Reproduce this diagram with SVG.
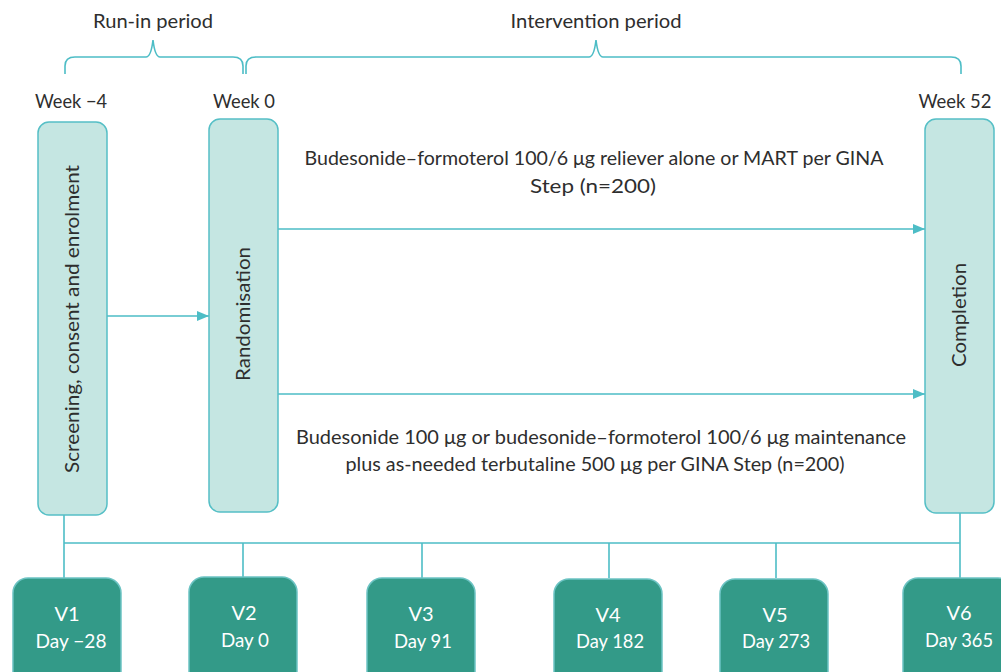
<svg xmlns="http://www.w3.org/2000/svg" width="1001" height="672" viewBox="0 0 1001 672">
<defs>
<style>
.t{font-family:"Source Sans Pro",Lato,"Liberation Sans",sans-serif;font-size:20px;fill:#2e2e2e}
.w{font-family:"Source Sans Pro",Lato,"Liberation Sans",sans-serif;font-size:20px;fill:#ffffff}
.pb{fill:#c5e6e2;stroke:#55bfc6;stroke-width:1.5}
.vb{fill:#339a88;stroke:#6cc3c3;stroke-width:1.5}
.ln{fill:none;stroke:#4dbdc6;stroke-width:1.6}
</style>
<marker id="ah" viewBox="0 0 12 10" refX="12" refY="5" markerWidth="12" markerHeight="10" markerUnits="userSpaceOnUse" orient="auto">
<path d="M0,0 L12,5 L0,10 Z" fill="#4dbdc6"/>
</marker>
</defs>
<rect width="1001" height="672" fill="#ffffff"/>
<g id="labels">
<text class="t" x="153" y="28" text-anchor="middle" textLength="120" lengthAdjust="spacingAndGlyphs">Run-in period</text>
<text class="t" x="596" y="28" text-anchor="middle" textLength="171" lengthAdjust="spacingAndGlyphs">Intervention period</text>
<text class="t" x="71" y="108" text-anchor="middle" textLength="72" lengthAdjust="spacingAndGlyphs">Week −4</text>
<text class="t" x="244" y="108" text-anchor="middle" textLength="62" lengthAdjust="spacingAndGlyphs">Week 0</text>
<text class="t" x="955" y="108" text-anchor="middle" textLength="73" lengthAdjust="spacingAndGlyphs">Week 52</text>
<text class="t" x="594" y="165" text-anchor="middle" textLength="579" lengthAdjust="spacingAndGlyphs">Budesonide–formoterol 100/6 μg reliever alone or MART per GINA</text>
<text class="t" x="593" y="193" text-anchor="middle" textLength="126" lengthAdjust="spacingAndGlyphs">Step (n=200)</text>
<text class="t" x="601" y="444" text-anchor="middle" textLength="610" lengthAdjust="spacingAndGlyphs">Budesonide 100 μg or budesonide–formoterol 100/6 μg maintenance</text>
<text class="t" x="595" y="471" text-anchor="middle" textLength="499" lengthAdjust="spacingAndGlyphs">plus as-needed terbutaline 500 μg per GINA Step (n=200)</text>
</g>
<g id="braces" class="ln">
<path d="M65,74 L65,66 Q65,57 75,57 L146,57 Q151,57 153,40 Q155,57 160,57 L233,57 Q243,57 243,66 L243,74"/>
<path d="M246,74 L246,66 Q246,57 256,57 L589,57 Q594,57 596,40 Q598,57 603,57 L951,57 Q961,57 961,66 L961,74"/>
</g>
<g id="connectors" class="ln">
<line x1="107" y1="316" x2="209" y2="316" marker-end="url(#ah)"/>
<line x1="278" y1="229" x2="925" y2="229" marker-end="url(#ah)"/>
<line x1="278" y1="394" x2="925" y2="394" marker-end="url(#ah)"/>
<line x1="64" y1="515" x2="64" y2="578"/>
<line x1="64" y1="543" x2="960" y2="543"/>
<line x1="960" y1="513" x2="960" y2="578"/>
<line x1="243" y1="543" x2="243" y2="578"/>
<line x1="422" y1="543" x2="422" y2="578"/>
<line x1="609" y1="543" x2="609" y2="578"/>
<line x1="776" y1="543" x2="776" y2="578"/>
</g>
<g id="screening">
<rect class="pb" x="38" y="122" width="69" height="393" rx="11"/>
<text class="t" transform="translate(79,319) rotate(-90)" text-anchor="middle" textLength="308" lengthAdjust="spacingAndGlyphs">Screening, consent and enrolment</text>
</g>
<g id="randomisation">
<rect class="pb" x="209" y="119" width="69" height="393" rx="11"/>
<text class="t" transform="translate(250,314) rotate(-90)" text-anchor="middle" textLength="134" lengthAdjust="spacingAndGlyphs">Randomisation</text>
</g>
<g id="completion">
<rect class="pb" x="925" y="119" width="69" height="394" rx="11"/>
<text class="t" transform="translate(966,315) rotate(-90)" text-anchor="middle" textLength="104" lengthAdjust="spacingAndGlyphs">Completion</text>
</g>
<g id="v1">
<rect class="vb" x="13" y="578" width="108" height="110" rx="15"/>
<text class="w" x="67" y="621" text-anchor="middle">V1</text>
<text class="w" x="71" y="648" text-anchor="middle" textLength="71" lengthAdjust="spacingAndGlyphs">Day −28</text>
</g>
<g id="v2">
<rect class="vb" x="189" y="577" width="108" height="110" rx="15"/>
<text class="w" x="244" y="620" text-anchor="middle">V2</text>
<text class="w" x="245" y="647" text-anchor="middle" textLength="48" lengthAdjust="spacingAndGlyphs">Day 0</text>
</g>
<g id="v3">
<rect class="vb" x="367" y="578" width="108" height="110" rx="15"/>
<text class="w" x="421" y="621" text-anchor="middle">V3</text>
<text class="w" x="423" y="648" text-anchor="middle" textLength="58" lengthAdjust="spacingAndGlyphs">Day 91</text>
</g>
<g id="v4">
<rect class="vb" x="554" y="579" width="108" height="110" rx="15"/>
<text class="w" x="608" y="622" text-anchor="middle">V4</text>
<text class="w" x="610" y="648" text-anchor="middle" textLength="68" lengthAdjust="spacingAndGlyphs">Day 182</text>
</g>
<g id="v5">
<rect class="vb" x="720" y="579" width="108" height="110" rx="15"/>
<text class="w" x="775" y="622" text-anchor="middle">V5</text>
<text class="w" x="776" y="648" text-anchor="middle" textLength="68" lengthAdjust="spacingAndGlyphs">Day 273</text>
</g>
<g id="v6">
<rect class="vb" x="903" y="578" width="110" height="110" rx="15"/>
<text class="w" x="959" y="620" text-anchor="middle">V6</text>
<text class="w" x="959" y="647" text-anchor="middle" textLength="68" lengthAdjust="spacingAndGlyphs">Day 365</text>
</g>
</svg>
